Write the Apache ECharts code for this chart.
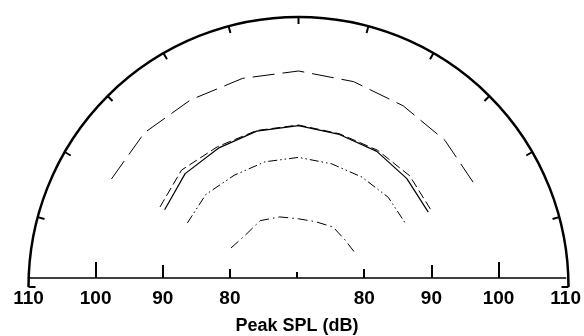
<!DOCTYPE html>
<html>
<head>
<meta charset="utf-8">
<script src="https://cdn.jsdelivr.net/npm/echarts@6/dist/echarts.min.js"></script>
<style>
  html, body {margin: 0; padding: 0; background: #fff;}
  #chart {width: 584px; height: 336px;}
</style>
</head>
<body>
<div id="chart"></div>
<script>
// off-axis angle in degrees, 0 = straight up
const angles = [-60, -45, -30, -15, 0, 15, 30, 45, 60];

// peak SPL (dB) for each curve, outer to inner
const splLongDash = [102, 102.3, 102, 102, 102, 101.5, 101, 100.7, 100.2];
const splDashed = [93.7, 94.5, 94, 94, 94, 93.5, 93.4, 93.3, 92.7];
const splSolid = [92.9, 93.75, 93.75, 93.9, 93.9, 93.4, 93.2, 92.7, 92.2];
const splDashDotDot = [89, 89.4, 89.1, 89.2, 89.2, 88.9, 88.8, 88.8, 88.45];
const splDashDot = [81.55, 81, 81.35, 80.75, 80.1, 80, 80.25, 79.8, 79.8];

// baseline: distance from centre (dB above 70), labelled as SPL
const baseTicks100 = [-30, 30];
const baseTicks90 = [-20, 20];
const baseTicks80 = [-10, 10];
const baseTicks70 = [0];
const baseLabels = [-40, -30, -20, -10, 10, 20, 30, 40];

const cx = 298.5;
const cy = 287;
const R = 270;

const chart = echarts.init(document.getElementById("chart"));

const toPolar = (values) => angles.map((a, i) => [values[i], a]);

const curve = (name, values, type, width) => ({
  name: name,
  type: "line",
  coordinateSystem: "polar",
  polarIndex: 0,
  data: toPolar(values),
  symbol: "none",
  silent: true,
  lineStyle: {color: "#000", width: width, type: type, cap: "butt"},
});

const baseAxis = (ticks, len, withLabels) => ({
  type: "value",
  gridIndex: 0,
  position: "bottom",
  min: -40,
  max: 40,
  interval: 10,
  axisLine: {show: withLabels, lineStyle: {color: "#000", width: 1.6}},
  axisTick: {show: true, inside: true, length: len, customValues: ticks, lineStyle: {color: "#000", width: 2}},
  axisLabel: withLabels ? {
    show: true,
    customValues: baseLabels,
    formatter: (v) => String(70 + Math.abs(v)),
    margin: 11,
    color: "#000",
    fontFamily: "Liberation Sans",
    fontWeight: "bold",
    fontSize: 19,
  } : {show: false},
  splitLine: {show: false},
  name: withLabels ? "Peak SPL (dB)" : "",
  nameLocation: "middle",
  nameGap: 39,
  nameTextStyle: {color: "#000", fontFamily: "Liberation Sans", fontWeight: "bold", fontSize: 18},
});

const option = {
  animation: false,
  backgroundColor: "#fff",
  polar: {center: [cx, cy], radius: R},
  angleAxis: {
    type: "value",
    min: -90,
    max: 90,
    interval: 15,
    startAngle: 180,
    endAngle: 0,
    clockwise: true,
    axisLine: {show: true, lineStyle: {color: "#000", width: 2.5}},
    axisTick: {show: true, inside: true, length: 7, lineStyle: {color: "#000", width: 2}},
    axisLabel: {show: false},
    splitLine: {show: false},
  },
  radiusAxis: {
    type: "value",
    min: 70,
    max: 110,
    axisLine: {show: false},
    axisTick: {show: false},
    axisLabel: {show: false},
    splitLine: {show: false},
  },
  grid: {left: cx - R, width: 2 * R, top: 200, bottom: 336 - cy},
  xAxis: [
    baseAxis(baseTicks100, 16, true),
    baseAxis(baseTicks90, 13, false),
    baseAxis(baseTicks80, 9, false),
    baseAxis(baseTicks70, 6, false),
  ],
  yAxis: {type: "value", gridIndex: 0, show: false, min: 0, max: 1},
  series: [
    curve("long dash", splLongDash, [22, 8], 1),
    curve("dashed", splDashed, [9, 4], 1),
    curve("solid", splSolid, "solid", 1.2),
    curve("dash dot dot", splDashDotDot, [9, 3, 1.5, 3, 1.5, 3], 1),
    curve("dash dot", splDashDot, [10, 4, 1.5, 4], 1),
  ],
};

chart.setOption(option);
</script>
</body>
</html>
